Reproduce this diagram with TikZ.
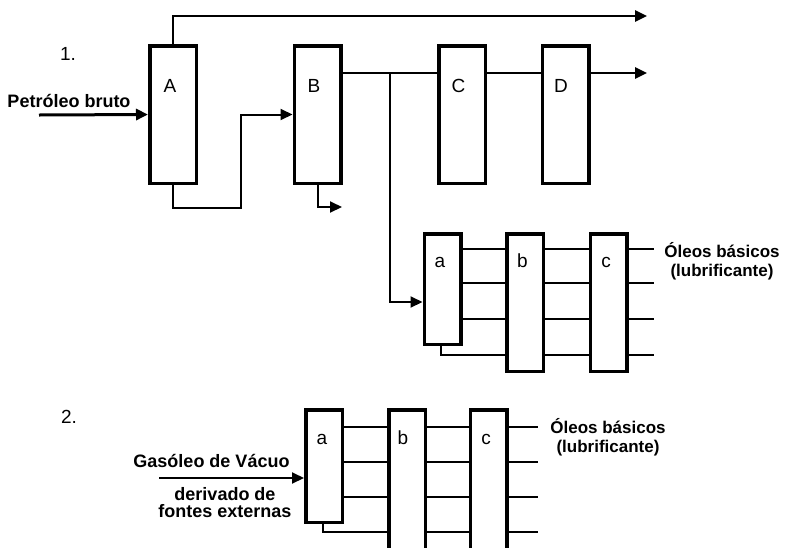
\documentclass[tikz,border=0pt]{standalone}
\usepackage{fontspec}
\setmainfont{Liberation Sans}
\usetikzlibrary{arrows.meta}
\begin{document}
\begin{tikzpicture}[x=1pt, y=-1pt,
    coluna/.style={draw, line width=3.5pt, inner sep=0pt, minimum width=46.5pt, minimum height=137.5pt},
    colunab/.style={draw, line width=3.5pt, inner sep=0pt, minimum width=36.5pt},
    fluxo/.style={line width=2.5pt},
    linha/.style={line width=2pt},
    seta/.style={-{Triangle[length=12pt,width=11pt]}},
    rotulo/.style={inner sep=0pt, anchor=base, font=\fontsize{19}{22}\selectfont},
    texto/.style={inner sep=0pt, align=center, font=\fontsize{18}{20}\selectfont\bfseries}]
    \useasboundingbox (0,0) rectangle (788,547);
    % 1. Destilacao
    \node[rotulo] (n1) at (68,60) {1.};
    \node[coluna] (A) at (173,114.5) {};
    \node[coluna] (B) at (317.5,114.5) {};
    \node[coluna] (C) at (462,114.5) {};
    \node[coluna] (D) at (565.5,114.5) {};
    \foreach \col/\dx in {A/-3, B/-3.5, C/-3.5, D/-4.5}
        \node[rotulo] (l\col) at ([xshift=\dx pt, yshift=-48pt]\col.north) {\col};
    \node[texto] (bruto) at (69,100.5) {Petróleo bruto};
    \coordinate (entrada) at (39,115);
    \draw[fluxo, line width=3pt, seta] (entrada) -- (A.west);
    % Topo de A
    \coordinate (topo) at (647,16);
    \draw[fluxo, seta] (A.north) |- (topo);
    % Fundo de A para B
    \coordinate (dobra) at (241,208);
    \draw[linha, seta] (A.south) |- (dobra) |- (B.west);
    % Fundo de B
    \coordinate (fundoB) at (342,207);
    \draw[linha, seta] (B.south) |- (fundoB);
    % Linha principal B - C - D
    \coordinate (saidaD) at (647,73);
    \draw[fluxo] ([yshift=-29pt]B.north east) -- ([yshift=-29pt]C.north west);
    \draw[fluxo] ([yshift=-29pt]C.north east) -- ([yshift=-29pt]D.north west);
    \draw[fluxo, seta] ([yshift=-29pt]D.north east) -- (saidaD);
    % Extracao a - b - c
    \node[colunab, minimum height=110.5pt] (a1) at (442.5,289) {};
    \node[colunab, minimum height=137.5pt] (b1) at (525,302.5) {};
    \node[colunab, minimum height=137.5pt] (c1) at (608.5,302.5) {};
    \node[rotulo] (la1) at ([xshift=-2.5pt, yshift=-35pt]a1.north) {a};
    \node[rotulo] (lb1) at ([xshift=-2.5pt, yshift=-35pt]b1.north) {b};
    \node[rotulo] (lc1) at ([xshift=-2.5pt, yshift=-35pt]c1.north) {c};
    \coordinate (ramo) at (390,73);
    \draw[linha, seta] (ramo) |- ([yshift=-13pt]a1.west);
    \foreach \y in {249,283,319}
        \draw[linha] (a1.east |- 0,\y) -- (b1.west |- 0,\y);
    \draw[linha] ([xshift=-1.5pt]a1.south) |- (b1.west |- 0,355);
    \foreach \y in {249,283,319,355} {
        \draw[linha] (b1.east |- 0,\y) -- (c1.west |- 0,\y);
        \draw[linha] (c1.east |- 0,\y) -- (654,\y);
    }
    \node[texto, font=\fontsize{17}{19.5}\selectfont\bfseries] (oleos1) at (722,261) {Óleos básicos\\(lubrificante)};
    % 2. Gasoleo de vacuo
    \node[rotulo] (n2) at (69,423) {2.};
    \node[colunab, minimum height=112.5pt] (a2) at (324,466) {};
    \node[colunab, minimum height=156.5pt] (b2) at (407,488) {};
    \node[colunab, minimum height=156.5pt] (c2) at (488.5,488) {};
    \node[rotulo] (la2) at ([xshift=-2pt, yshift=-36pt]a2.north) {a};
    \node[rotulo] (lb2) at ([xshift=-4pt, yshift=-36pt]b2.north) {b};
    \node[rotulo] (lc2) at ([xshift=-2.5pt, yshift=-36pt]c2.north) {c};
    \node[texto] (gasoleo) at (211.5,461) {Gasóleo de Vácuo};
    \node[texto, font=\fontsize{18}{17}\selectfont\bfseries] (externas) at (225,502.5) {derivado de\\fontes externas};
    \coordinate (entrada2) at (159,478);
    \draw[linha, seta] (entrada2) -- ([yshift=-12pt]a2.west);
    \foreach \y in {427,462,497}
        \draw[linha] (a2.east |- 0,\y) -- (b2.west |- 0,\y);
    \draw[linha] ([xshift=-1pt]a2.south) |- (b2.west |- 0,532);
    \foreach \y in {427,462,497,532} {
        \draw[linha] (b2.east |- 0,\y) -- (c2.west |- 0,\y);
        \draw[linha] (c2.east |- 0,\y) -- (538,\y);
    }
    \node[texto, font=\fontsize{17}{19}\selectfont\bfseries] (oleos2) at (608,437.5) {Óleos básicos\\(lubrificante)};
\end{tikzpicture}
\end{document}
